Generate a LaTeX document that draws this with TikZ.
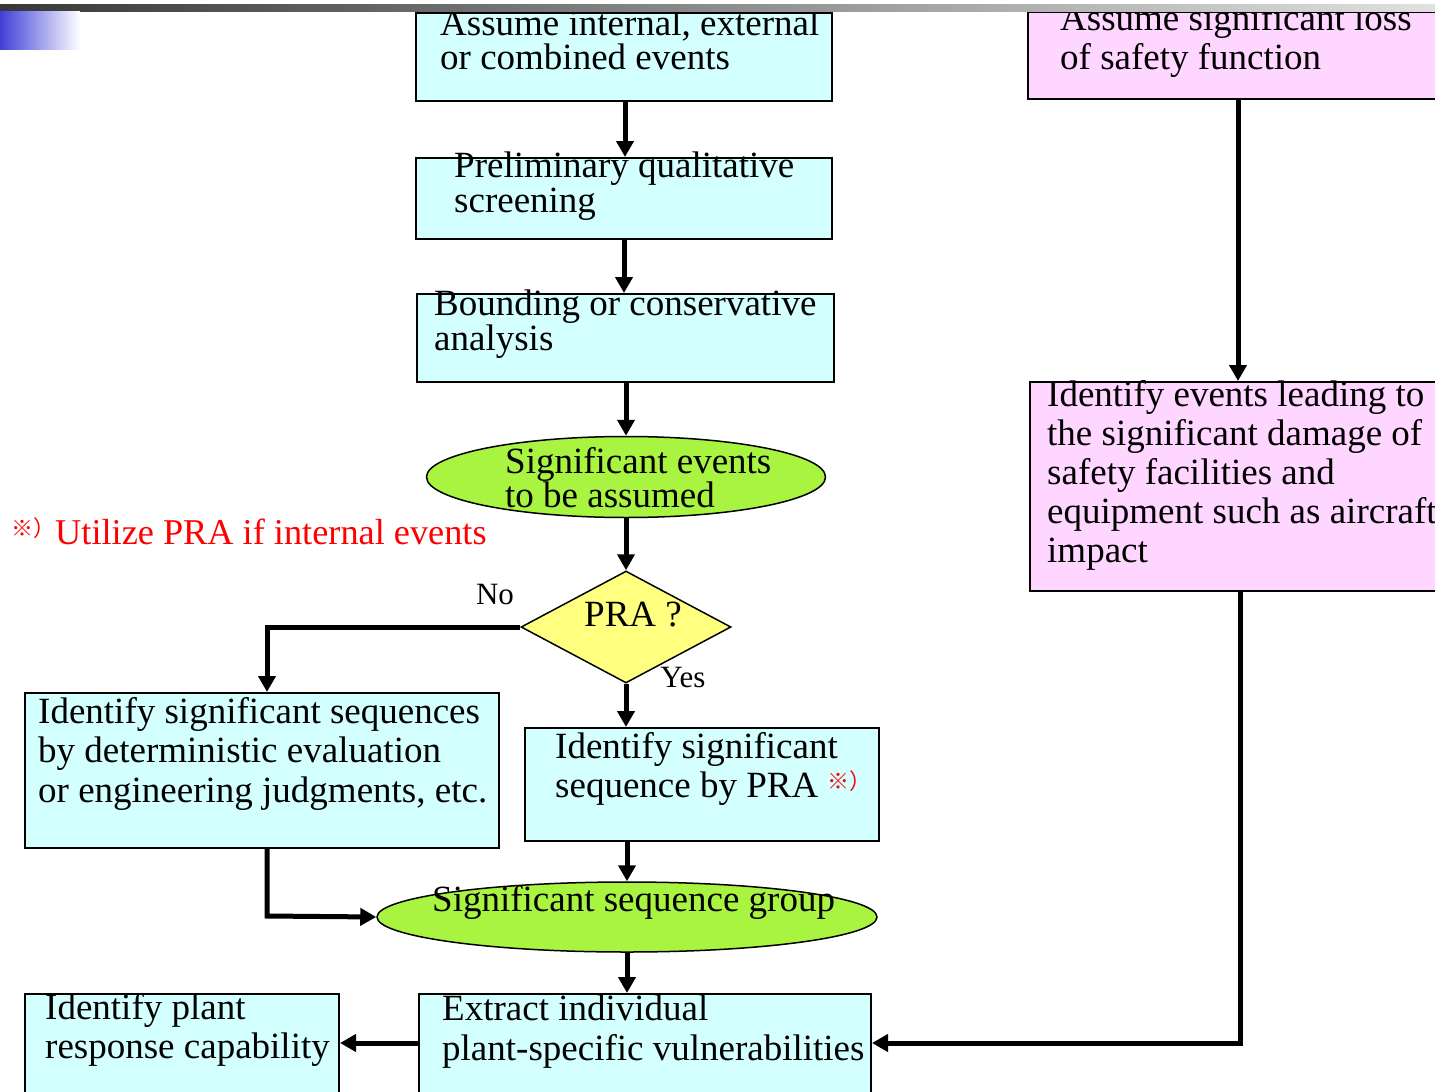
\documentclass[tikz,border=0pt]{standalone}
\usepackage{fontspec}
\setmainfont{Liberation Serif}
\newfontfamily\cjk{Noto Sans CJK JP}
\usetikzlibrary{shapes.geometric,arrows.meta}
\definecolor{cyanfill}{RGB}{212,255,255}
\definecolor{pinkfill}{RGB}{255,214,255}
\definecolor{greenfill}{RGB}{168,244,64}
\definecolor{yellowfill}{RGB}{255,255,128}
\definecolor{barleft}{RGB}{56,56,56}
\definecolor{barright}{RGB}{225,225,225}
\definecolor{blueleft}{RGB}{64,64,216}
\tikzset{
  cbox/.style={draw=black,line width=2pt,fill=cyanfill,rectangle,inner sep=0pt,anchor=north west},
  pbox/.style={draw=black,line width=2pt,fill=pinkfill,rectangle,inner sep=0pt,anchor=north west},
  ell/.style={draw=black,line width=1.5pt,fill=greenfill,ellipse,inner sep=0pt},
  dia/.style={draw=black,line width=1.5pt,fill=yellowfill,diamond,inner sep=0pt},
  txt/.style={inner sep=0pt,anchor=base west,align=left,font=\fontsize{37}{39}\selectfont},
  small/.style={inner sep=0pt,anchor=base,font=\fontsize{31}{34}\selectfont},
  arr/.style={line width=5pt,-{Triangle[length=16pt,width=17pt]}},
}
\newcommand{\refmark}[1]{{\color{red}\cjk\fontsize{#1}{#1}\selectfont ※）}}
\begin{document}
\begin{tikzpicture}[x=1pt,y=-1pt]
\clip (0,0) rectangle (1435,1092);
\fill[white] (0,0) rectangle (1435,1092);
% boxes
\node[cbox,minimum width=416pt,minimum height=88pt] (b1) at (415,12) {};
\node[cbox,minimum width=416pt,minimum height=81pt] (b2) at (415,157) {};
\node[cbox,minimum width=417pt,minimum height=88pt] (b3) at (416,293) {};
\node[ell,minimum width=399pt,minimum height=81pt] (e1) at (626,477) {};
\node[dia,minimum width=210pt,minimum height=112pt] (d1) at (626,627) {};
\node[cbox,minimum width=474pt,minimum height=155pt] (lb) at (24,692) {};
\node[cbox,minimum width=354pt,minimum height=113pt] (rb) at (524,727) {};
\node[ell,minimum width=500pt,minimum height=70pt] (e2) at (627,917) {};
\node[cbox,minimum width=314pt,minimum height=130pt] (bl) at (24,993) {};
\node[cbox,minimum width=452pt,minimum height=130pt] (bc) at (418,993) {};
\node[pbox,minimum width=440pt,minimum height=87pt] (p1) at (1027,11) {};
\node[pbox,minimum width=440pt,minimum height=209pt] (p2) at (1029,381) {};
% texts (base anchor = baseline of the last line)
\node[txt,font=\fontsize{37}{34}\selectfont] (t1) at (440,69) {Assume internal, external\\or combined events};
\node[txt,font=\fontsize{37}{35}\selectfont] (t2) at (454,212) {Preliminary qualitative\\screening};
\node[txt,font=\fontsize{37}{33}\selectfont] (t3) at (434,350) {Bounding or conservative\\analysis};
\node[txt,font=\fontsize{37}{34}\selectfont] (te1) at (505,507) {Significant events\\to be assumed};
\node[txt] (td) at (584,626) {PRA ?};
\node[small] (tno) at (495,604) {No};
\node[small] (tyes) at (683,687) {Yes};
\node[txt,font=\fontsize{37}{39.5}\selectfont] (tlb) at (38,802) {Identify significant sequences\\by deterministic evaluation\\or engineering judgments, etc.};
\node[txt] (trb) at (555,797) {Identify significant\\sequence by PRA \raisebox{8pt}{\refmark{22}}};
\node[txt] (te2) at (432,911) {Significant sequence group};
\node[txt] (tbl) at (45,1058) {Identify plant\\response capability};
\node[txt,font=\fontsize{37}{40}\selectfont] (tbc) at (442,1060) {Extract individual\\plant-specific vulnerabilities};
\node[txt] (tp1) at (1060,69) {Assume significant loss\\of safety function};
\node[txt] (tp2) at (1047,562) {Identify events leading to\\the significant damage of\\safety facilities and\\equipment such as aircraft\\impact};
\node[txt,text=red,font=\fontsize{36.3}{39}\selectfont] (note) at (11,544) {\raisebox{8pt}{\refmark{22}}Utilize PRA if internal events};
% connectors
\coordinate (c1) at (267,627);
\coordinate (c2) at (267,916);
\coordinate (c3) at (1240,1043);
\draw[arr] (625,100) -- (625,157);
\draw[arr] (624,238) -- (624,293);
\draw[arr] (626,381) -- (e1.north);
\draw[arr] (e1.south) -- (d1.north);
\draw[arr] (d1.west) -- (c1) -- (lb.north -| c1);
\draw[arr] (d1.south) -- (rb.north -| d1.south);
\draw[arr] (rb.south -| e2.north) -- (e2.north);
\draw[arr] (lb.south -| c1) -- (c2) -- (e2.west);
\draw[arr] (e2.south) -- (bc.north -| e2.south);
\draw[arr] (bc.west |- 0,1043) -- (bl.east |- 0,1043);
\draw[arr] (p1.south -| 1238,0) -- (p2.north -| 1238,0);
\draw[arr] (p2.south -| c3) -- (c3) -- (bc.east |- c3);
% header decoration
\shade[left color=barleft,right color=barright] (0,4) rectangle (1435,11);
\shade[left color=blueleft,right color=white] (0,11) rectangle (80,49);
\end{tikzpicture}
\end{document}
